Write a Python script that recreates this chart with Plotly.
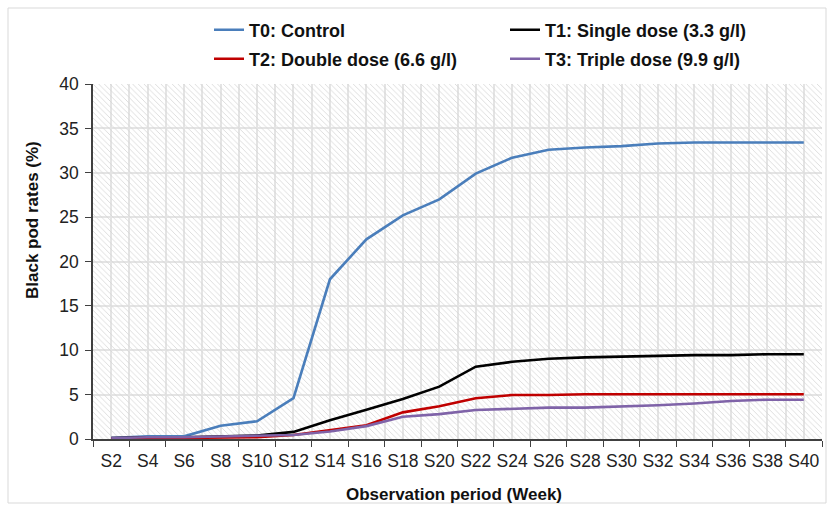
import plotly.graph_objects as go

# ---------------- data ----------------
weeks = ["S2", "S4", "S6", "S8", "S10", "S12", "S14", "S16", "S18", "S20",
         "S22", "S24", "S26", "S28", "S30", "S32", "S34", "S36", "S38", "S40"]
t0_control = [0.1, 0.3, 0.3, 1.5, 2.0, 4.6, 18.0, 22.5, 25.2, 27.0,
              29.9, 31.7, 32.6, 32.85, 33.0, 33.3, 33.4, 33.4, 33.4, 33.4]
t1_single = [0.1, 0.2, 0.2, 0.3, 0.4, 0.8, 2.1, 3.3, 4.5, 5.9,
             8.15, 8.7, 9.05, 9.2, 9.3, 9.4, 9.45, 9.45, 9.55, 9.55]
t2_double = [0.05, 0.1, 0.1, 0.15, 0.2, 0.45, 1.0, 1.55, 3.0, 3.7,
             4.6, 4.95, 4.95, 5.05, 5.05, 5.05, 5.05, 5.05, 5.05, 5.05]
t3_triple = [0.1, 0.2, 0.2, 0.3, 0.4, 0.45, 0.85, 1.45, 2.5, 2.8,
             3.27, 3.4, 3.53, 3.53, 3.65, 3.8, 4.0, 4.28, 4.43, 4.43]
series_names = ["T0: Control", "T1: Single dose (3.3 g/l)",
                "T2: Double dose (6.6 g/l)", "T3: Triple dose (9.9 g/l)"]
y_max = 40
y_step = 5

# ---------------- layout constants ----------------
W, H = 829, 506
L, R, T, B = 93, 7, 84, 67
PW, PH = W - L - R, H - T - B

def px_x(p):
    return (p - L) / PW

def px_y(p):
    return (H - B - p) / PH

FONT = "Liberation Sans, Arial, sans-serif"
idx = list(range(len(weeks)))
n = len(weeks)

fig = go.Figure()

# hatched plot-area background
fig.add_trace(go.Bar(
    x=[(n - 1) / 2], y=[y_max], width=[n],
    marker=dict(color="#d6d6d6", line=dict(width=0),
                pattern=dict(shape="\\", size=4, solidity=0.2, fillmode="replace")),
    showlegend=False, hoverinfo="skip",
))

colors = ["#4a7ebb", "#000000", "#c00000", "#7f63a8"]
data = [t0_control, t1_single, t2_double, t3_triple]
legends = ["legend", "legend2", "legend3", "legend4"]
for name, vals, col, lg in zip(series_names, data, colors, legends):
    fig.add_trace(go.Scatter(
        x=idx, y=vals, mode="lines", name=name,
        line=dict(color=col, width=2.6), legend=lg,
    ))

leg_common = dict(font=dict(family=FONT, size=18, color="#111111", weight="bold"),
                  bgcolor="rgba(0,0,0,0)", borderwidth=0, xanchor="left",
                  yanchor="middle", itemwidth=30)
leg_pos = {
    "legend": (209, 30),
    "legend2": (505, 30),
    "legend3": (209, 59),
    "legend4": (505, 59),
}
legend_layout = {k: dict(x=px_x(v[0]), y=px_y(v[1]), **leg_common) for k, v in leg_pos.items()}

fig.update_layout(
    width=W, height=H, autosize=False,
    margin=dict(l=L, r=R, t=T, b=B),
    paper_bgcolor="white", plot_bgcolor="white",
    font=dict(family=FONT, color="#222222"),
    showlegend=True,
    **legend_layout,
    xaxis=dict(
        range=[-0.5, n - 0.5],
        tickmode="array", tickvals=idx, ticktext=weeks,
        ticks="", showgrid=True, gridcolor="#e4e4e4", gridwidth=1.6,
        minor=dict(tick0=-0.5, dtick=1, ticks="outside", ticklen=6,
                   tickcolor="#404040", tickwidth=1.3,
                   showgrid=True, gridcolor="#e4e4e4", gridwidth=1.6),
        showline=True, linecolor="#404040", linewidth=1.5,
        tickfont=dict(family=FONT, size=17.5, color="#222222"),
        ticklabelstandoff=5,
        zeroline=False, fixedrange=True,
    ),
    yaxis=dict(
        range=[0, y_max], dtick=y_step, tick0=0,
        ticks="outside", ticklen=6, tickcolor="#404040", tickwidth=1.3,
        showgrid=True, gridcolor="#e4e4e4", gridwidth=1.6,
        showline=True, linecolor="#404040", linewidth=1.5,
        tickfont=dict(family=FONT, size=17.5, color="#222222"),
        ticklabelstandoff=3,
        zeroline=False, fixedrange=True,
    ),
    annotations=[
        dict(text="Black pod rates (%)", textangle=-90, xref="paper", yref="paper",
             x=px_x(32), y=px_y(220), xanchor="center", yanchor="middle",
             showarrow=False, font=dict(family=FONT, size=17, color="#111111", weight="bold")),
        dict(text="Observation period (Week)", xref="paper", yref="paper",
             x=px_x(453.5), y=px_y(494), xanchor="center", yanchor="middle",
             showarrow=False, font=dict(family=FONT, size=17, color="#111111", weight="bold")),
    ],
    shapes=[
        dict(type="rect", xref="paper", yref="paper",
             x0=px_x(8), x1=px_x(826), y0=px_y(503), y1=px_y(8),
             line=dict(color="#d9d9d9", width=1), fillcolor="rgba(0,0,0,0)", layer="below"),
    ],
)

fig.write_html("out.html",
               config={"displayModeBar": False},
               post_script="document.body.style.margin='0';document.body.style.padding='0';")
